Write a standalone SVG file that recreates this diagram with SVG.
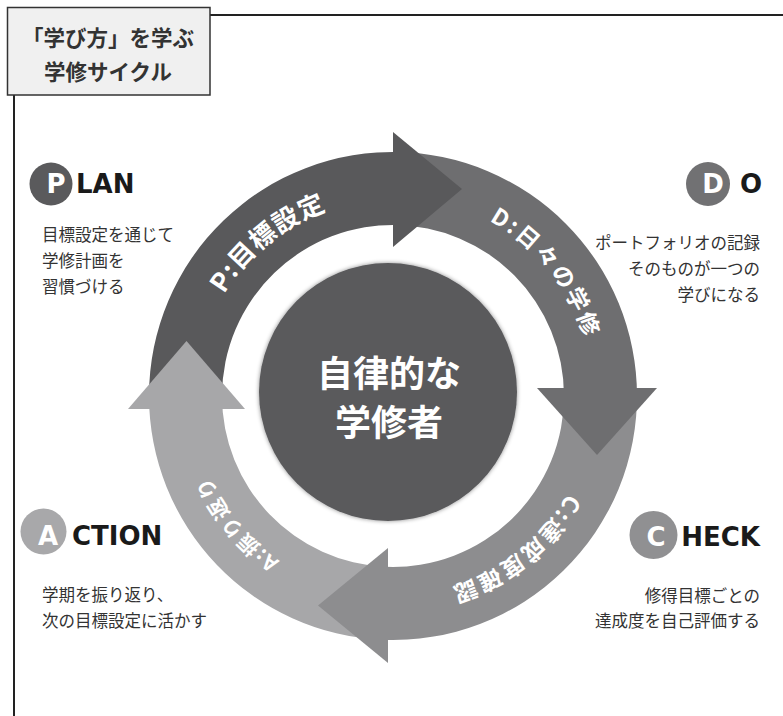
<svg xmlns="http://www.w3.org/2000/svg" width="783" height="716" viewBox="0 0 783 716">
<defs>
<style>
.jp{font-family:"Noto Sans CJK JP","Noto Sans",sans-serif;}
.body{font-family:"Noto Sans CJK JP","Noto Sans",sans-serif;font-size:16.5px;fill:#333;}
.big{font-family:"DejaVu Sans","Noto Sans CJK JP",sans-serif;font-weight:bold;font-size:26px;fill:#1a1a1a;}
.letter{font-family:"DejaVu Sans","Noto Sans CJK JP",sans-serif;font-weight:bold;font-size:26px;fill:#fff;text-anchor:middle;}
.arcl{font-family:"Noto Sans CJK JP","Noto Sans",sans-serif;font-weight:bold;fill:#fff;text-anchor:middle;}
.frame{stroke:#222;stroke-width:2;fill:none;}
</style>
<filter id="soft" x="-20%" y="-20%" width="140%" height="140%">
<feDropShadow dx="0" dy="0" stdDeviation="2" flood-color="#000" flood-opacity="0.45"/>
</filter>
<path id="tp" d="M198.53,427.50 A197,197 0 0 1 462.96,211.84"/>
<path id="td" d="M362.56,199.34 A198,198 0 0 1 578.53,467.96"/>
<path id="tc" d="M589.71,365.90 A198,198 0 0 1 320.71,581.41"/>
<path id="ta" d="M425.24,592.88 A199,199 0 0 1 206.38,325.48"/>
</defs>
<rect width="783" height="716" fill="#fff"/>

<g id="frame">
<line class="frame" x1="210" y1="15" x2="783" y2="15"/>
<line class="frame" x1="14" y1="95" x2="14" y2="716"/>
</g>

<g id="title">
<rect x="7.5" y="7.5" width="202.5" height="87.5" fill="#f0f0f0" stroke="#333" stroke-width="1.5"/>
<text class="jp" x="108" y="46" font-size="21.5" font-weight="bold" fill="#333" text-anchor="middle">「学び方」を学ぶ</text>
<text class="jp" x="108" y="80" font-size="21.5" font-weight="bold" fill="#333" text-anchor="middle">学修サイクル</text>
</g>

<g id="connectors">
<path fill="#59595b" d="M149,396 A244,244 0 0 1 401.52,152.15 L398.97,225.10 A171,171 0 0 0 222,396 Z"/>
<path fill="#6e6e70" d="M395.13,152.01 A244,244 0 0 1 637,396 L564,396 A171,171 0 0 0 394.49,225.01 Z"/>
<path fill="#8d8d8f" d="M636.96,391.74 A244,244 0 0 1 382.36,639.77 L385.54,566.84 A171,171 0 0 0 563.97,393.02 Z"/>
<path fill="#a7a7a9" d="M382.36,639.77 A244,244 0 0 1 149,396 L222,396 A171,171 0 0 0 385.54,566.84 Z"/>
<polygon fill="#59595b" points="393,132 462,189 393,247"/>
<polygon fill="#6e6e70" points="537,388 657,388 597,455"/>
<polygon fill="#8d8d8f" points="388,548 388,663 318,605.5"/>
<polygon fill="#a7a7a9" points="128,409 245,409 186.5,341"/>
<text class="arcl" font-size="26" letter-spacing="1"><textPath href="#tp" startOffset="50%">P:目標設定</textPath></text>
<text class="arcl" font-size="23" letter-spacing="2.5"><textPath href="#td" startOffset="50%">D:日々の学修</textPath></text>
<text class="arcl" font-size="23" letter-spacing="2.5"><textPath href="#tc" startOffset="50%">C:達成度確認</textPath></text>
<text class="arcl" font-size="21" letter-spacing="1.5"><textPath href="#ta" startOffset="50%">A:振り返り</textPath></text>
</g>

<g id="center">
<circle cx="388" cy="392" r="129" fill="#5a5a5c" filter="url(#soft)"/>
<text class="jp" x="389" y="387" font-size="36" font-weight="bold" fill="#fff" text-anchor="middle">自律的な</text>
<text class="jp" x="389" y="436" font-size="36" font-weight="bold" fill="#fff" text-anchor="middle">学修者</text>
</g>

<g id="plan">
<circle cx="51" cy="184" r="21.5" fill="#5a5a5c"/>
<text class="letter" x="56" y="193">P</text>
<text class="big" x="76" y="193">LAN</text>
<text class="body" x="42" y="241">目標設定を通じて</text>
<text class="body" x="42" y="267">学修計画を</text>
<text class="body" x="42" y="293">習慣づける</text>
</g>

<g id="do">
<circle cx="708" cy="184" r="22" fill="#717173"/>
<text class="letter" x="713" y="193">D</text>
<text class="big" x="740" y="193">O</text>
<text class="body" x="760" y="249" text-anchor="end">ポートフォリオの記録</text>
<text class="body" x="760" y="275" text-anchor="end">そのものが一つの</text>
<text class="body" x="760" y="301" text-anchor="end">学びになる</text>
</g>

<g id="action">
<circle cx="43.5" cy="531.5" r="23" fill="#a8a8aa"/>
<text class="letter" x="48" y="545">A</text>
<text class="big" x="72" y="545">CTION</text>
<text class="body" x="42" y="601">学期を振り返り、</text>
<text class="body" x="42" y="627">次の目標設定に活かす</text>
</g>

<g id="check">
<circle cx="653.5" cy="535" r="24" fill="#909092"/>
<text class="letter" x="656" y="546">C</text>
<text class="big" x="760" y="546" text-anchor="end">HECK</text>
<text class="body" x="760" y="602" text-anchor="end">修得目標ごとの</text>
<text class="body" x="760" y="627" text-anchor="end">達成度を自己評価する</text>
</g>
</svg>
